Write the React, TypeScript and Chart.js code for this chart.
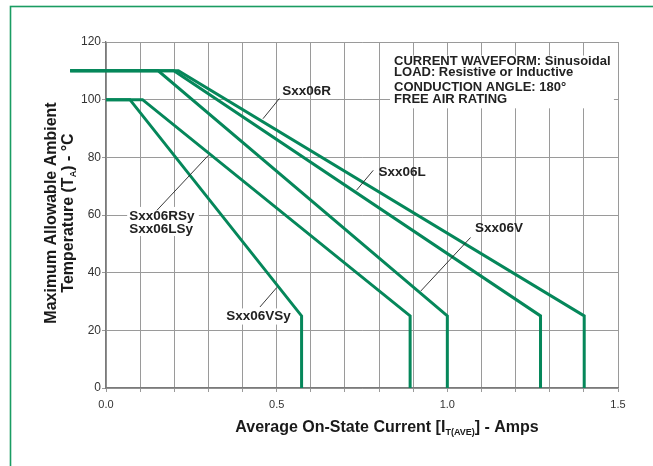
import React, { useEffect, useRef } from "react";
import { Chart, registerables } from "chart.js";

Chart.register(...registerables);

// ---- data ----
const seriesNames = ["Sxx06VSy", "Sxx06RSy/LSy", "Sxx06V", "Sxx06L", "Sxx06R"];
const vsyCurrent = [0, 0.07, 0.573, 0.573];
const vsyTemp = [100, 100, 25, 0];
const rsyLsyCurrent = [0, 0.107, 0.891, 0.891];
const rsyLsyTemp = [100, 100, 25, 0];
const vCurrent = [-0.105, 0.153, 1.0, 1.0];
const vTemp = [110, 110, 25, 0];
const lCurrent = [-0.105, 0.199, 1.273, 1.273];
const lTemp = [110, 110, 25, 0];
const rCurrent = [-0.105, 0.212, 1.401, 1.401];
const rTemp = [110, 110, 25, 0];
const xLabelValues = [0, 0.5, 1.0, 1.5];
const infoLines = [
  "CURRENT WAVEFORM: Sinusoidal",
  "LOAD: Resistive or Inductive",
  "CONDUCTION ANGLE: 180°",
  "FREE AIR RATING",
];

const FONT = '"Liberation Sans", Arial, Helvetica, sans-serif';
const LINE_GREEN = "#05875a";
const FRAME_GREEN = "#1a9c62";

function pts(xs: number[], ys: number[]) {
  return xs.map((x, i) => ({ x, y: ys[i] }));
}

type Part = { t: string; sub?: boolean };

function drawParts(ctx: CanvasRenderingContext2D, parts: Part[], cx: number, cy: number, size: number, subSize: number) {
  let total = 0;
  const widths = parts.map((p) => {
    ctx.font = `bold ${p.sub ? subSize : size}px ${FONT}`;
    const w = ctx.measureText(p.t).width;
    total += w;
    return w;
  });
  let x = cx - total / 2;
  ctx.textAlign = "left";
  ctx.textBaseline = "middle";
  parts.forEach((p, i) => {
    ctx.font = `bold ${p.sub ? subSize : size}px ${FONT}`;
    ctx.fillText(p.t, x, p.sub ? cy + size * 0.3 : cy);
    x += widths[i];
  });
}

const annotationPlugin = {
  id: "annotations",
  beforeDraw(chart: any) {
    const ctx = chart.ctx as CanvasRenderingContext2D;
    ctx.save();
    ctx.fillStyle = "#ffffff";
    ctx.fillRect(0, 0, chart.width, chart.height);
    ctx.strokeStyle = FRAME_GREEN;
    ctx.lineWidth = 1.6;
    ctx.strokeRect(10.5, 6.5, 720, 520);
    ctx.restore();
  },
  beforeDatasetsDraw(chart: any) {
    const ctx = chart.ctx as CanvasRenderingContext2D;
    const xs = chart.scales.x;
    const ys = chart.scales.y;
    const boxes = [
      [0.062, 62.8, 0.272, 52.7],
      [0.346, 27.6, 0.542, 22.0],
      [0.832, 115.3, 1.488, 97.0],
    ];
    ctx.save();
    ctx.fillStyle = "#ffffff";
    boxes.forEach(([x1, y1, x2, y2]) => {
      const px1 = xs.getPixelForValue(x1);
      const px2 = xs.getPixelForValue(x2);
      const py1 = ys.getPixelForValue(y1);
      const py2 = ys.getPixelForValue(y2);
      ctx.fillRect(px1, py1, px2 - px1, py2 - py1);
    });
    ctx.restore();
  },
  afterDatasetsDraw(chart: any) {
    const ctx = chart.ctx as CanvasRenderingContext2D;
    const xs = chart.scales.x;
    const ys = chart.scales.y;
    const X = (v: number) => xs.getPixelForValue(v);
    const Y = (v: number) => ys.getPixelForValue(v);
    ctx.save();
    // leader lines
    const leaders = [
      [0.46, 93.4, 0.508, 100.4],
      [0.734, 68.6, 0.783, 75.5],
      [0.922, 33.6, 1.068, 52.2],
      [0.3, 80.7, 0.149, 61.6],
      [0.5, 34.8, 0.451, 28.1],
    ];
    ctx.strokeStyle = "#222";
    ctx.lineWidth = 0.9;
    leaders.forEach(([a, b, c, d]) => {
      ctx.beginPath();
      ctx.moveTo(X(a), Y(b));
      ctx.lineTo(X(c), Y(d));
      ctx.stroke();
    });
    // series labels
    ctx.fillStyle = "#222";
    ctx.textAlign = "left";
    ctx.textBaseline = "middle";
    ctx.font = `bold 13.5px ${FONT}`;
    const labels: [string, number, number][] = [
      [seriesNames[4], 0.516, 103.0],
      [seriesNames[3], 0.798, 74.9],
      [seriesNames[2], 1.081, 55.3],
      ["Sxx06RSy", 0.0683, 59.6],
      ["Sxx06LSy", 0.0683, 55.0],
      [seriesNames[0], 0.352, 24.9],
    ];
    labels.forEach(([t, x, y]) => ctx.fillText(t, X(x), Y(y)));
    // info text
    ctx.font = `bold 13px ${FONT}`;
    const infoY = [113.3, 109.3, 104.4, 100.0];
    infoLines.forEach((t, i) => ctx.fillText(t, X(0.844), Y(infoY[i])));
    // x title
    ctx.fillStyle = "#1a1a1a";
    drawParts(
      ctx,
      [
        { t: "Average On-State Current [I" },
        { t: "T(AVE)", sub: true },
        { t: "] - Amps" },
      ],
      387,
      428,
      16,
      9
    );
    // y title
    ctx.save();
    ctx.translate(51.7, 213);
    ctx.rotate(-Math.PI / 2);
    drawParts(ctx, [{ t: "Maximum Allowable Ambient" }], 0, 0, 16, 9);
    ctx.restore();
    ctx.save();
    ctx.translate(68.3, 213);
    ctx.rotate(-Math.PI / 2);
    drawParts(ctx, [{ t: "Temperature (T" }, { t: "A", sub: true }, { t: ") - °C" }], 0, 0, 16, 9);
    ctx.restore();
    ctx.restore();
  },
};

export default function App() {
  const ref = useRef<HTMLCanvasElement | null>(null);
  useEffect(() => {
    if (!ref.current) return;
    const mk = (label: string, xs: number[], ys: number[]) => ({
      label,
      data: pts(xs, ys),
      borderColor: LINE_GREEN,
      backgroundColor: LINE_GREEN,
      borderWidth: 3,
      pointRadius: 0,
      tension: 0,
      fill: false,
      clip: false as any,
      borderCapStyle: "butt" as const,
      borderJoinStyle: "miter" as const,
    });
    const chart = new Chart(ref.current, {
      type: "line",
      data: {
        datasets: [
          mk(seriesNames[0], vsyCurrent, vsyTemp),
          mk(seriesNames[1], rsyLsyCurrent, rsyLsyTemp),
          mk(seriesNames[2], vCurrent, vTemp),
          mk(seriesNames[3], lCurrent, lTemp),
          mk(seriesNames[4], rCurrent, rTemp),
        ] as any,
      },
      options: {
        animation: false,
        responsive: false,
        maintainAspectRatio: false,
        layout: { padding: { left: 0, top: 42, right: 35, bottom: 0 } },
        plugins: { legend: { display: false }, tooltip: { enabled: false } },
        scales: {
          x: {
            type: "linear",
            min: 0,
            max: 1.5,
            afterFit: (s: any) => {
              s.height = 78;
            },
            ticks: {
              stepSize: 0.1,
              autoSkip: false,
              maxRotation: 0,
              padding: 6,
              color: "#333",
              font: { family: FONT, size: 11 },
              callback: (v: any) => {
                const n = Number(v);
                const hit = xLabelValues.find((t) => Math.abs(t - n) < 1e-6);
                return hit !== undefined ? hit.toFixed(1) : "";
              },
            },
            grid: { color: "#9a9a9a", lineWidth: 1, tickLength: 4, drawTicks: true },
            border: { color: "#7a7a7a", width: 1.3 },
          },
          y: {
            type: "linear",
            min: 0,
            max: 120,
            afterFit: (s: any) => {
              s.width = 106;
            },
            ticks: {
              stepSize: 20,
              padding: 1,
              color: "#333",
              font: { family: FONT, size: 12 },
            },
            grid: { color: "#9a9a9a", lineWidth: 1, tickLength: 4, drawTicks: true },
            border: { color: "#7a7a7a", width: 1.3 },
          },
        },
      } as any,
      plugins: [annotationPlugin],
    });
    return () => chart.destroy();
  }, []);
  return (
    <div style={{ position: "fixed", left: 0, top: 0, width: 653, height: 466 }}>
      <canvas ref={ref} width={653} height={466} style={{ width: 653, height: 466, display: "block" }} />
    </div>
  );
}
